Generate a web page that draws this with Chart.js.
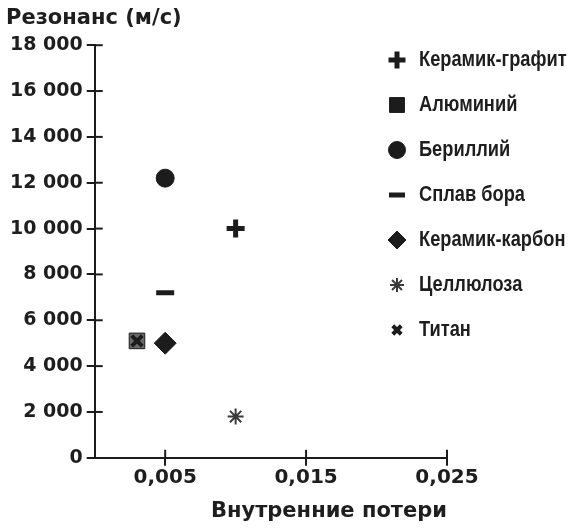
<!DOCTYPE html>
<html>
<head>
<meta charset="utf-8">
<script src="https://cdn.jsdelivr.net/npm/chart.js@4/dist/chart.umd.min.js"></script>
<style>
  body { margin: 0; background: #fff; }
</style>
</head>
<body>
<canvas id="myScatter" width="570" height="529"></canvas>
<script>
/*  data
-------------------------------------------------------*/
var materials = ['Керамик-графит', 'Алюминий', 'Бериллий', 'Сплав бора', 'Керамик-карбон', 'Целлюлоза', 'Титан'];
var lossValues = [0.010, 0.003, 0.005, 0.005, 0.005, 0.010, 0.003];
var resonanceValues = [10000, 5100, 12200, 7200, 5000, 1800, 5100];
var xTickValues = [0.005, 0.015, 0.025];
var yTickValues = [0, 2000, 4000, 6000, 8000, 10000, 12000, 14000, 16000, 18000];

var markers = ['cross', 'rect', 'circle', 'line', 'rectRot', 'star', 'crossRot'];
var markerSize = [9, 11, 9, 9, 11, 8, 7.5];
var legendSize = [8.5, 10.5, 8.5, 8, 9, 7, 6];
var markerBorder = [5, 1, 1, 5, 1, 2, 4];
var ink = '#1c1c1c';
var titleFont = { family: 'DejaVu Sans', size: 21, weight: 'bold' };

var datasets = materials.map(function (name, i) {
  return {
    label: name,
    data: [{ x: lossValues[i], y: resonanceValues[i] }],
    pointStyle: markers[i],
    pointRadius: markerSize[i],
    pointHoverRadius: markerSize[i],
    pointBorderWidth: markerBorder[i],
    borderColor: i == 5 ? '#3a3a3a' : ink,
    backgroundColor: i == 1 ? '#6a6a6a' : ink,
    order: i == 6 ? -1 : 0
  };
});

/*  inner tick stubs + legend
-------------------------------------------------------*/
var extras = {
  id: 'extras',
  afterDraw: function (chart) {
    var ctx = chart.ctx;
    var area = chart.chartArea;
    var sx = chart.scales.x, sy = chart.scales.y;
    ctx.save();
    ctx.strokeStyle = ink;
    ctx.lineWidth = 2;
    sy.ticks.forEach(function (t) {
      if (t.value === 0) return;
      var py = sy.getPixelForValue(t.value);
      ctx.beginPath(); ctx.moveTo(area.left, py); ctx.lineTo(area.left + 8, py); ctx.stroke();
    });
    sx.ticks.forEach(function (t) {
      var px = sx.getPixelForValue(t.value);
      ctx.beginPath(); ctx.moveTo(px, area.bottom); ctx.lineTo(px, area.bottom - 8); ctx.stroke();
    });

    // legend
    chart.data.datasets.forEach(function (ds, i) {
      var y = 60 + i * 45;
      ctx.fillStyle = ink;
      ctx.strokeStyle = ds.borderColor;
      ctx.lineWidth = ds.pointBorderWidth;
      Chart.helpers.drawPoint(ctx, {
        pointStyle: ds.pointStyle,
        radius: legendSize[i],
        borderWidth: ds.pointBorderWidth
      }, 397, y);
      ctx.save();
      ctx.translate(419, y);
      ctx.scale(0.83, 1);
      ctx.font = 'bold 22px "Liberation Sans", Arial, sans-serif';
      ctx.textBaseline = 'middle';
      ctx.textAlign = 'left';
      ctx.fillStyle = '#1e1e1e';
      ctx.fillText(ds.label, 0, 0);
      ctx.restore();
    });
    ctx.restore();
  }
};

/*  chart
-------------------------------------------------------*/
var ctx = document.getElementById('myScatter');
var myScatter = new Chart(ctx, {
  type: 'scatter',
  data: { datasets: datasets },
  options: {
    responsive: false,
    animation: false,
    layout: { padding: { left: 6, right: 123, top: 2, bottom: 5 } },
    plugins: {
      legend: { display: false },
      tooltip: { enabled: false },
      title: {
        display: true,
        text: 'Резонанс (м/с)',
        align: 'start',
        color: '#1e1e1e',
        font: titleFont,
        padding: { top: 4, bottom: 14 }
      }
    },
    scales: {
      x: {
        type: 'linear',
        min: 0,
        max: 0.025,
        afterBuildTicks: function (scale) {
          scale.ticks = xTickValues.map(function (v) { return { value: v }; });
        },
        ticks: {
          color: '#1e1e1e',
          font: { family: 'DejaVu Sans', size: 20, weight: 'bold' },
          padding: 0,
          maxRotation: 0,
          callback: function (v) { return v.toFixed(3).replace('.', ','); }
        },
        grid: { drawOnChartArea: false, tickLength: 8, color: ink, lineWidth: 2 },
        border: { color: ink, width: 2 },
        title: {
          display: true,
          text: 'Внутренние потери',
          align: 'end',
          color: '#1e1e1e',
          font: titleFont,
          padding: { top: 9, bottom: 0 }
        }
      },
      y: {
        min: 0,
        max: 18000,
        afterBuildTicks: function (scale) {
          scale.ticks = yTickValues.map(function (v) { return { value: v }; });
        },
        ticks: {
          color: '#1e1e1e',
          font: { family: 'DejaVu Sans', size: 19, weight: 'bold' },
          padding: 4,
          callback: function (v) { return String(v).replace(/\B(?=(\d{3})+(?!\d))/g, ' '); }
        },
        grid: { drawOnChartArea: false, tickLength: 8, color: ink, lineWidth: 2 },
        border: { color: ink, width: 2 }
      }
    }
  },
  plugins: [extras]
});
</script>
</body>
</html>
